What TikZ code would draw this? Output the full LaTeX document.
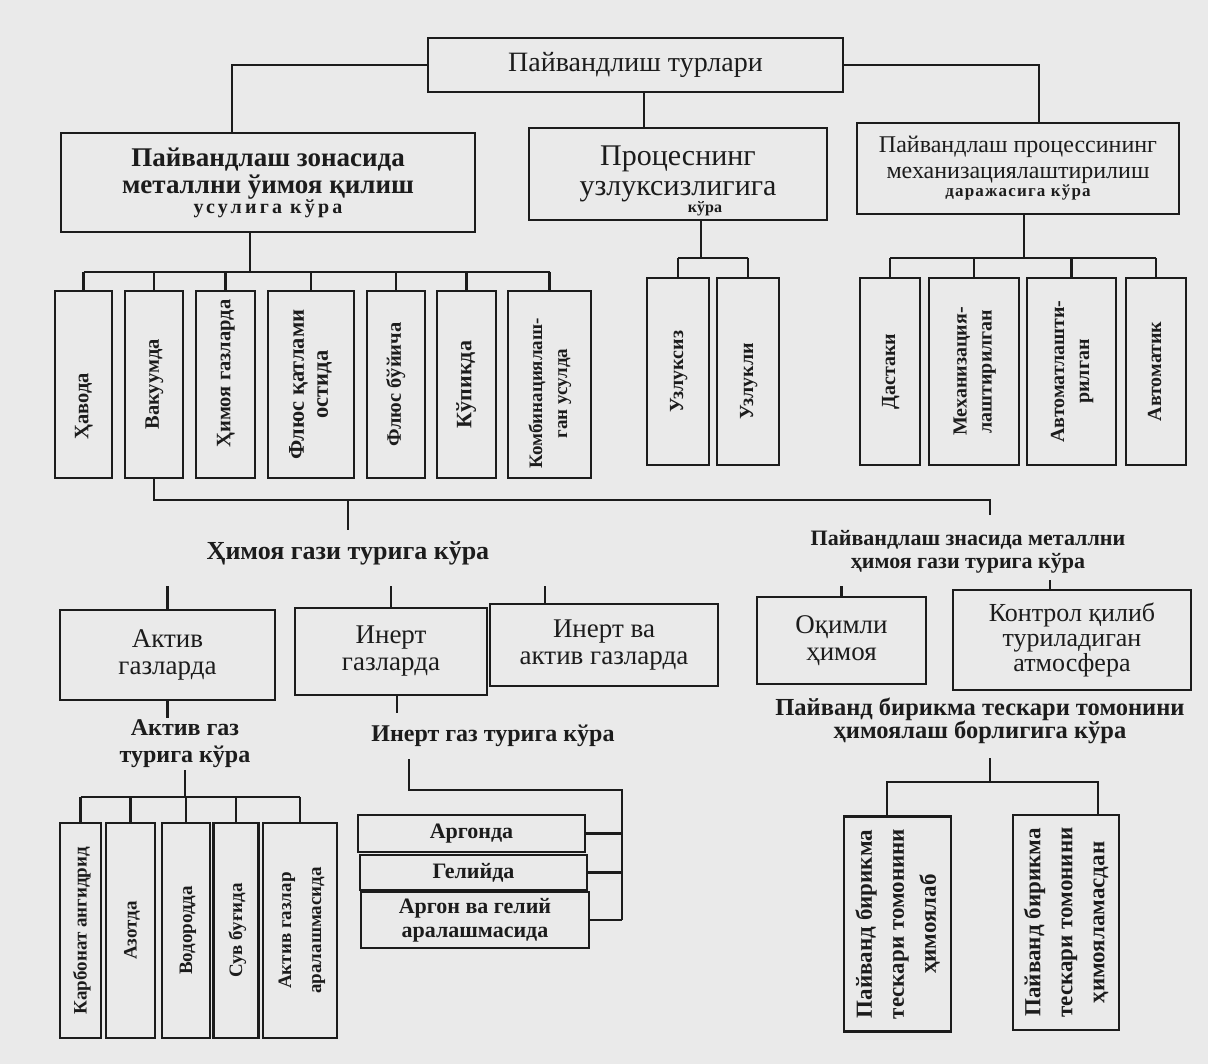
\documentclass[tikz,border=0pt]{standalone}
\usepackage{fontspec}
\setmainfont{Liberation Serif}
\usepackage{graphicx}

\definecolor{paper}{RGB}{234,234,234}
\definecolor{ink}{RGB}{28,28,28}

\newcommand\fs[2]{\fontsize{#1}{#2}\selectfont}
% text set bottom-to-top inside a tall box; optional shift along the text
\newcommand\vtext[2][0pt]{\rotatebox{90}{\kern#1\begin{tabular}{@{}c@{}}#2\end{tabular}\kern-#1}}

\tikzset{
  box/.style={draw=ink, line width=2.4pt, inner sep=0pt, align=center, text=ink},
  vbox/.style={box, minimum height=187, font=\bfseries\fs{20.5}{24}},
  rvbox/.style={box, minimum height=187, font=\bfseries\fs{20}{25}},
  bvbox/.style={box, minimum height=215, font=\bfseries\fs{19}{30}},
  pbbox/.style={box, minimum height=215, font=\bfseries\fs{23}{32}},
  lbl/.style={inner sep=0pt, align=center, text=ink},
  wire/.style={draw=ink, line width=2.1pt},
}

\begin{document}
\begin{tikzpicture}[x=1pt,y=-1pt]
\fill[paper] (0,0) rectangle (1208,1064);
\useasboundingbox (0,0) rectangle (1208,1064);

% ---- root and the three criteria
\node[box, minimum width=415, minimum height=54, font=\fs{28}{32}] (root) at (635.5,65) {Пайвандлиш турлари};

\node[box, minimum width=414, minimum height=99, font=\bfseries\fs{27}{27}] (zone) at (268,182.5)
  {Пайвандлаш зонасида\\металлни ўимоя қилиш\\[-7pt]{\fs{20}{20}\addfontfeature{LetterSpace=16}усулига кўра}};
\node[box, minimum width=298, minimum height=92, font=\fs{30}{30}] (proc) at (678,174)
  {\rule{0pt}{33pt}Процеснинг\\узлуксизлигига\\[-13pt]{\bfseries\fs{16}{16}\hspace*{54pt}кўра}};
\node[box, minimum width=322, minimum height=91, font=\fs{24}{26}] (mech) at (1018,168.5)
  {Пайвандлаш процессининг\\механизациялаштирилиш\\[-8pt]{\bfseries\fs{17}{17}\addfontfeature{LetterSpace=7}даражасига кўра}};

% ---- protection methods
\node[vbox, minimum width=57] (havoda) at (83.5,384.5) {\vtext[-22pt]{Ҳавода}};
\node[vbox, minimum width=58] (vakuum) at (154,384.5) {\vtext{Вакуумда}};
\node[vbox, minimum width=59] (himgaz) at (225.5,384.5) {\vtext[11pt]{Ҳимоя газларда}};
\node[vbox, minimum width=86, font=\bfseries\fs{22.5}{24}] (flyusq) at (311,384.5) {\vtext{Флюс қатлами\\остида}};
\node[vbox, minimum width=58] (flyusb) at (396,384.5) {\vtext{Флюс бўйича}};
\node[vbox, minimum width=59, font=\bfseries\fs{22}{24}] (kupik) at (466.5,384.5) {\vtext{Кўпикда}};
\node[vbox, minimum width=83, font=\bfseries\fs{19}{25}] (kombi) at (549.5,384.5) {\vtext[-9pt]{Комбинациялаш-\\ган усулда}};

% ---- continuity
\node[rvbox, minimum width=62] (uzl1) at (678,371.5) {\vtext{Узлуксиз}};
\node[rvbox, minimum width=62] (uzl2) at (748,371.5) {\vtext[-10pt]{Узлукли}};

% ---- mechanisation
\node[rvbox, minimum width=60] (dast) at (890,371.5) {\vtext{Дастаки}};
\node[rvbox, minimum width=90] (mexl) at (974,371.5) {\vtext{Механизация-\\лаштирилган}};
\node[rvbox, minimum width=89] (avtl) at (1071.5,371.5) {\vtext{Автоматлашти-\\рилган}};
\node[rvbox, minimum width=60] (avtm) at (1156,371.5) {\vtext{Автоматик}};

% ---- gas criteria
\node[lbl, minimum height=46, font=\bfseries\fs{26}{28}] (gaslbl) at (348,553) {Ҳимоя гази турига кўра};
\node[lbl, minimum height=73, font=\bfseries\fs{22}{23}] (zlbl) at (968,551.5)
  {Пайвандлаш знасида металлни\\ҳимоя гази турига кўра};

\node[box, minimum width=215, minimum height=90, font=\fs{27}{27}] (aktiv) at (167.5,655) {Актив\\газларда};
\node[box, minimum width=192, minimum height=87, font=\fs{27}{27}] (inert) at (391,651.5) {Инерт\\газларда};
\node[box, minimum width=228, minimum height=82, font=\fs{27}{27}] (inakt) at (604,645) {Инерт ва\\актив газларда};
\node[box, minimum width=169, minimum height=87, font=\fs{27}{27}] (okim) at (841.5,640.5) {Оқимли\\ҳимоя};
\node[box, minimum width=238, minimum height=100, font=\fs{26}{25}] (kontr) at (1072,640)
  {Контрол қилиб\\туриладиган\\атмосфера};

% ---- sub-criteria
\node[lbl, minimum height=52, font=\bfseries\fs{24}{27}] (aktlbl) at (185,744) {Актив газ\\турига кўра};
\node[lbl, minimum height=46, font=\bfseries\fs{24}{26}] (inlbl) at (493,736) {Инерт газ турига кўра};
\node[lbl, minimum height=74, font=\bfseries\fs{24.5}{23}] (pblbl) at (980,721)
  {Пайванд бирикма тескари томонини\\ҳимоялаш борлигига кўра};

% ---- active gases
\node[bvbox, minimum width=41] (karb) at (80.5,930.5) {\vtext{Карбонат ангидрид}};
\node[bvbox, minimum width=49] (azot) at (130.5,930.5) {\vtext{Азотда}};
\node[bvbox, minimum width=48] (vodo) at (186,930.5) {\vtext{Водородда}};
\node[bvbox, minimum width=45] (suv) at (236,930.5) {\vtext{Сув буғида}};
\node[bvbox, minimum width=74] (aktmix) at (300,930.5) {\vtext{Актив газлар\\аралашмасида}};

% ---- inert gases
\node[box, minimum width=227, minimum height=37, font=\bfseries\fs{22}{22}] (argon) at (471.5,833.5) {Аргонда};
\node[box, minimum width=227, minimum height=35, font=\bfseries\fs{22}{22}] (geliy) at (473.5,872.5) {Гелийда};
\node[box, minimum width=228, minimum height=56, font=\bfseries\fs{22}{24}] (argmix) at (475,920) {Аргон ва гелий\\аралашмасида};

% ---- back side protection
\node[pbbox, minimum width=107] (pbA) at (897.5,924) {\vtext{Пайванд бирикма\\тескари томонини\\ҳимоялаб}};
\node[pbbox, minimum width=106] (pbB) at (1066,922.5) {\vtext{Пайванд бирикма\\тескари томонини\\ҳимояламасдан}};

% ================= connectors
\coordinate (kzone) at (232,0);
\coordinate (kproc) at (644,0);
\coordinate (kmech) at (1039,0);
\draw[wire] (root.west) -| (kzone |- zone.north);
\draw[wire] (kproc |- root.south) -- (kproc |- proc.north);
\draw[wire] (root.east) -| (kmech |- mech.north);

% methods bus
\coordinate (kz) at (250,0);
\coordinate (busA) at (0,272);
\draw[wire] (kz |- zone.south) -- (kz |- busA);
\draw[wire] (havoda.north |- busA) -- (kombi.north |- busA);
\foreach \n in {havoda,vakuum,himgaz,flyusq,flyusb,kupik,kombi}
  \draw[wire] (\n.north |- busA) -- (\n.north);

% continuity and mechanisation buses
\coordinate (busB) at (0,258);
\coordinate (kp) at (701,0);
\coordinate (km) at (1024,0);
\draw[wire] (kp |- proc.south) -- (kp |- busB);
\draw[wire] (uzl1.north |- busB) -- (uzl2.north |- busB);
\foreach \n in {uzl1,uzl2} \draw[wire] (\n.north |- busB) -- (\n.north);
\draw[wire] (km |- mech.south) -- (km |- busB);
\draw[wire] (dast.north |- busB) -- (avtm.north |- busB);
\foreach \n in {dast,mexl,avtl,avtm} \draw[wire] (\n.north |- busB) -- (\n.north);

% from the vacuum box to both gas criteria
\coordinate (busC) at (0,500);
\coordinate (kzl) at (990,0);
\draw[wire] (vakuum.south) -- (vakuum.south |- busC) -- (kzl |- busC) -- (kzl |- zlbl.north);
\draw[wire] (gaslbl.north |- busC) -- (gaslbl.north);

% stubs above the gas boxes
\coordinate (gs) at (0,586);
\coordinate (kia) at (545,0);
\coordinate (kk) at (1050,0);
\draw[wire] (aktiv.north |- gs) -- (aktiv.north);
\draw[wire] (inert.north |- gs) -- (inert.north);
\draw[wire] (kia |- gs) -- (kia |- inakt.north);
\draw[wire] (okim.north |- gs) -- (okim.north);
\draw[wire] (kk |- kontr.north) -- ++(0,-9);

% active gases
\coordinate (busD) at (0,797);
\draw[wire] (aktiv.south) -- (aktiv.south |- aktlbl.north);
\draw[wire] (aktlbl.south) -- (aktlbl.south |- busD);
\draw[wire] (karb.north |- busD) -- (aktmix.north |- busD);
\foreach \n in {karb,azot,vodo,suv,aktmix} \draw[wire] (\n.north |- busD) -- (\n.north);

% inert gases
\coordinate (ki) at (397,0);
\coordinate (kil) at (409,0);
\coordinate (busE) at (0,790);
\coordinate (kr) at (622,0);
\draw[wire] (ki |- inert.south) -- (ki |- inlbl.north);
\draw[wire] (kil |- inlbl.south) -- (kil |- busE) -- (kr |- busE) -- (kr |- argmix.east);
\foreach \n in {argon,geliy,argmix} \draw[wire] (\n.east) -- (kr |- \n.east);

% back side protection
\coordinate (kpb) at (990,0);
\coordinate (busF) at (0,782);
\coordinate (kpl) at (887,0);
\coordinate (kpr) at (1098,0);
\draw[wire] (kpb |- pblbl.south) -- (kpb |- busF);
\draw[wire] (kpl |- pbA.north) -- (kpl |- busF) -- (kpr |- busF) -- (kpr |- pbB.north);
\end{tikzpicture}
\end{document}
